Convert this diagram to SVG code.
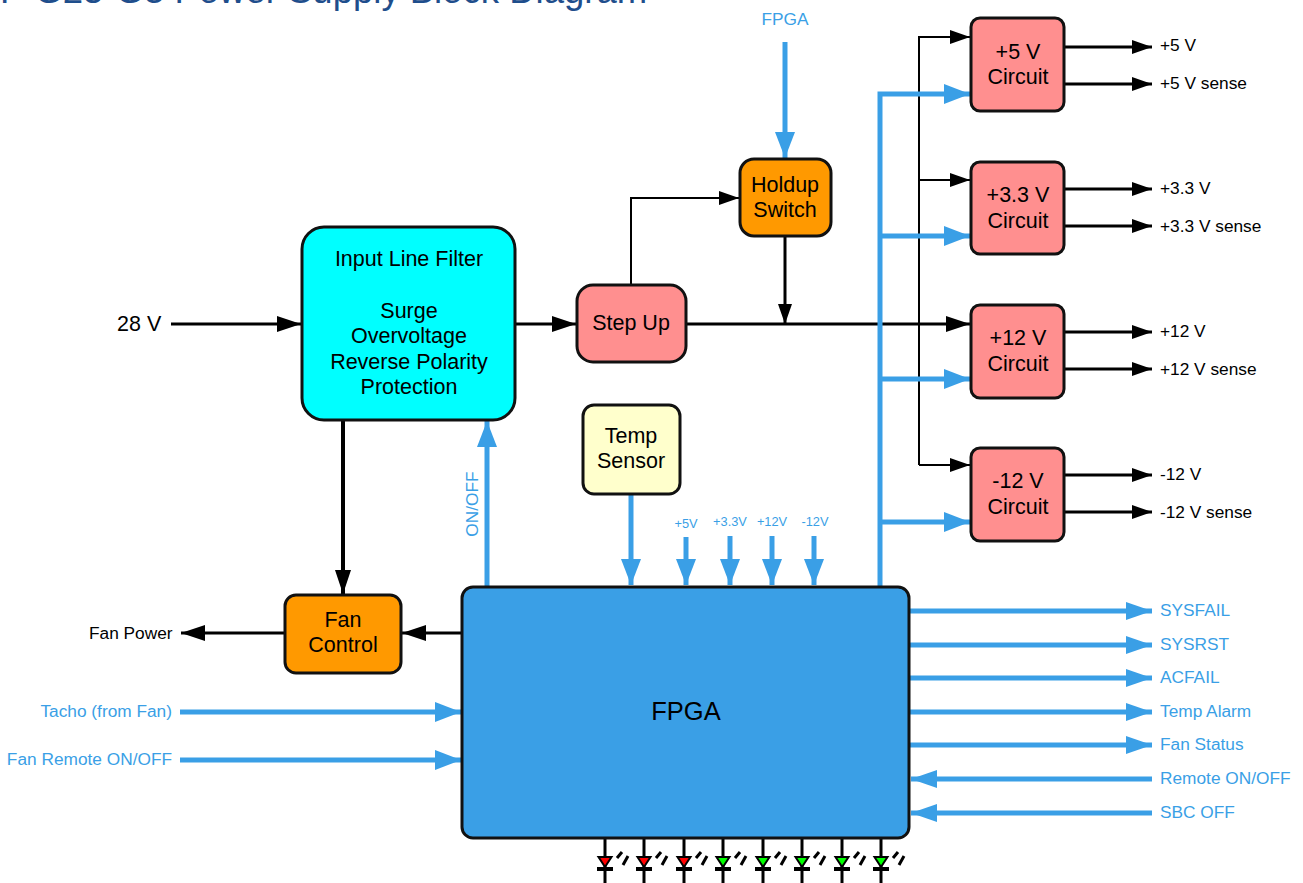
<svg xmlns="http://www.w3.org/2000/svg" width="1303" height="883" viewBox="0 0 1303 883">
<style>
text{font-family:"Liberation Sans",Arial,sans-serif;fill:#000}
.c{text-anchor:middle}
.n{font-size:21.5px}
.l{font-size:17.3px}
.b{fill:#3a9fe6}
.s{font-size:12.8px;fill:#3a9fe6;text-anchor:middle}
.box{stroke:#111;stroke-width:3}
.k{stroke:#000;fill:none}
.u{stroke:#3a9fe6;fill:none}
.w2{stroke-width:2}
.w3{stroke-width:3}
.w5{stroke-width:5}
.led{stroke:#000;stroke-width:3;fill:none}
</style>
<defs>
<marker id="ak" markerUnits="userSpaceOnUse" markerWidth="24" markerHeight="16" refX="24" refY="8" orient="auto"><path d="M0 0L24 8L0 16z" fill="#000"/></marker>
<marker id="aks" markerUnits="userSpaceOnUse" markerWidth="20" markerHeight="14" refX="20" refY="7" orient="auto"><path d="M0 0L20 7L0 14z" fill="#000"/></marker>
<marker id="au" markerUnits="userSpaceOnUse" markerWidth="26" markerHeight="18" refX="26" refY="9" orient="auto"><path d="M0 0L26 9L0 18z" fill="#3a9fe6"/></marker>
<marker id="auv" markerUnits="userSpaceOnUse" markerWidth="26" markerHeight="20" refX="26" refY="10" orient="auto"><path d="M0 0L26 10L0 20z" fill="#3a9fe6"/></marker>
<g id="ledr"><path class="led" d="M0 0V45"/><path d="M-6.500 19H6.500L0 29z" fill="#f00" stroke="#000" stroke-width="2"/><path d="M-8 31H8" stroke="#000" stroke-width="4"/><path class="led" d="M12 20L17 14M18 27L23 18"/></g>
<g id="ledg"><path class="led" d="M0 0V45"/><path d="M-6.500 19H6.500L0 29z" fill="#0f0" stroke="#000" stroke-width="2"/><path d="M-8 31H8" stroke="#000" stroke-width="4"/><path class="led" d="M12 20L17 14M18 27L23 18"/></g>
</defs>
<rect width="1303" height="883" fill="#fff"/>
<text x="0" y="3" font-size="36.500" style="fill:#1f4e8c">F-G25-G3 Power Supply Block Diagram</text>
<g id="connectors">
<g class="k w3">
<path d="M171 324H301" marker-end="url(#ak)"/>
<path d="M516 324H576" marker-end="url(#ak)"/>
<path d="M687 324H970" marker-end="url(#ak)"/>
<path d="M785 237V324" marker-end="url(#aks)"/>
<path d="M343 420V594" marker-end="url(#ak)" stroke-width="4"/>
<path d="M462 633H402" marker-end="url(#ak)"/>
<path d="M285 633H181" marker-end="url(#ak)"/>
<path d="M1037 47H1152" marker-end="url(#aks)"/>
<path d="M1037 84H1152" marker-end="url(#aks)"/>
<path d="M1037 189H1152" marker-end="url(#aks)"/>
<path d="M1037 226H1152" marker-end="url(#aks)"/>
<path d="M1037 332H1152" marker-end="url(#aks)"/>
<path d="M1037 369H1152" marker-end="url(#aks)"/>
<path d="M1037 475H1152" marker-end="url(#aks)"/>
<path d="M1037 512H1152" marker-end="url(#aks)"/>
</g>
<g class="k w2">
<path d="M631 284V198H739" marker-end="url(#aks)"/>
<path d="M919 465V37H970" marker-end="url(#aks)"/>
<path d="M919 180H970" marker-end="url(#aks)"/>
<path d="M919 465H970" marker-end="url(#aks)"/>
</g>
<g class="u w5">
<path d="M785 42V158" marker-end="url(#auv)"/>
<path d="M880 586V94H970" marker-end="url(#auv)"/>
<path d="M880 236H970" marker-end="url(#auv)"/>
<path d="M880 379H970" marker-end="url(#auv)"/>
<path d="M880 522H970" marker-end="url(#auv)"/>
<path d="M487 586V421" marker-end="url(#auv)"/>
<path d="M631 495V585" marker-end="url(#auv)"/>
<path d="M686 537V585" marker-end="url(#auv)"/>
<path d="M730 536V585" marker-end="url(#auv)"/>
<path d="M772 536V585" marker-end="url(#auv)"/>
<path d="M814 536V585" marker-end="url(#auv)"/>
<path d="M180 712H461" marker-end="url(#auv)"/>
<path d="M180 760H461" marker-end="url(#auv)"/>
<path d="M910 611H1152" marker-end="url(#au)"/>
<path d="M910 645H1152" marker-end="url(#au)"/>
<path d="M910 678H1152" marker-end="url(#au)"/>
<path d="M910 712H1152" marker-end="url(#au)"/>
<path d="M910 745H1152" marker-end="url(#au)"/>
<path d="M1152 779H911" marker-end="url(#au)"/>
<path d="M1152 813H911" marker-end="url(#au)"/>
</g>
<use href="#ledr" x="605" y="838"/>
<use href="#ledr" x="644" y="838"/>
<use href="#ledr" x="684" y="838"/>
<use href="#ledg" x="723" y="838"/>
<use href="#ledg" x="763" y="838"/>
<use href="#ledg" x="802" y="838"/>
<use href="#ledg" x="842" y="838"/>
<use href="#ledg" x="881" y="838"/>
</g>
<g id="filter"><rect class="box" x="302" y="227" width="213" height="193" rx="22" fill="#00ffff"/>
<text class="n c" x="409" y="266">Input Line Filter</text>
<text class="n c" x="409" y="318">Surge</text>
<text class="n c" x="409" y="343">Overvoltage</text>
<text class="n c" x="409" y="369">Reverse Polarity</text>
<text class="n c" x="409" y="394">Protection</text></g>
<g id="stepup"><rect class="box" x="577" y="285" width="109" height="77" rx="16" fill="#ff8f8f"/><text class="n c" x="631" y="330">Step Up</text></g>
<g id="holdup"><rect class="box" x="740" y="159" width="91" height="77" rx="14" fill="#ff9900"/><text class="n c" x="785" y="192">Holdup</text><text class="n c" x="785" y="217">Switch</text></g>
<g id="v5"><rect class="box" x="971" y="18" width="93" height="93" rx="9" fill="#ff8f8f"/><text class="n c" x="1018" y="59">+5 V</text><text class="n c" x="1018" y="84">Circuit</text></g>
<g id="v33"><rect class="box" x="971" y="162" width="93" height="92" rx="9" fill="#ff8f8f"/><text class="n c" x="1018" y="202">+3.3 V</text><text class="n c" x="1018" y="228">Circuit</text></g>
<g id="v12"><rect class="box" x="971" y="305" width="93" height="93" rx="9" fill="#ff8f8f"/><text class="n c" x="1018" y="345">+12 V</text><text class="n c" x="1018" y="371">Circuit</text></g>
<g id="vm12"><rect class="box" x="971" y="448" width="93" height="93" rx="9" fill="#ff8f8f"/><text class="n c" x="1018" y="488">-12 V</text><text class="n c" x="1018" y="514">Circuit</text></g>
<g id="temp"><rect class="box" x="583" y="405" width="97" height="89" rx="11" fill="#ffffcc"/><text class="n c" x="631" y="443">Temp</text><text class="n c" x="631" y="468">Sensor</text></g>
<g id="fan"><rect class="box" x="285" y="595" width="116" height="78" rx="11" fill="#ff9900"/><text class="n c" x="343" y="627">Fan</text><text class="n c" x="343" y="652">Control</text></g>
<g id="fpga"><rect class="box" x="462" y="587" width="447" height="251" rx="11" fill="#3a9fe6"/><text x="686" y="720" class="c" font-size="25.500">FPGA</text></g>
<g id="labels">
<text x="117" y="331" class="n">28 V</text>
<text x="89" y="639" class="l">Fan Power</text>
<text x="172" y="717" class="l b" text-anchor="end">Tacho (from Fan)</text>
<text x="172" y="765" class="l b" text-anchor="end">Fan Remote ON/OFF</text>
<text x="785" y="25" class="l b c">FPGA</text>
<text class="l b c" transform="translate(478 504) rotate(-90)">ON/OFF</text>
<text class="s" x="686" y="528">+5V</text>
<text class="s" x="730" y="526">+3.3V</text>
<text class="s" x="772" y="526">+12V</text>
<text class="s" x="815" y="526">-12V</text>
<text x="1160" y="51" class="l">+5 V</text><text x="1160" y="89" class="l">+5 V sense</text>
<text x="1160" y="194" class="l">+3.3 V</text><text x="1160" y="232" class="l">+3.3 V sense</text>
<text x="1160" y="337" class="l">+12 V</text><text x="1160" y="375" class="l">+12 V sense</text>
<text x="1160" y="480" class="l">-12 V</text><text x="1160" y="518" class="l">-12 V sense</text>
<text x="1160" y="616" class="l b">SYSFAIL</text>
<text x="1160" y="650" class="l b">SYSRST</text>
<text x="1160" y="683" class="l b">ACFAIL</text>
<text x="1160" y="717" class="l b">Temp Alarm</text>
<text x="1160" y="750" class="l b">Fan Status</text>
<text x="1160" y="784" class="l b">Remote ON/OFF</text>
<text x="1160" y="818" class="l b">SBC OFF</text>
</g>
</svg>
